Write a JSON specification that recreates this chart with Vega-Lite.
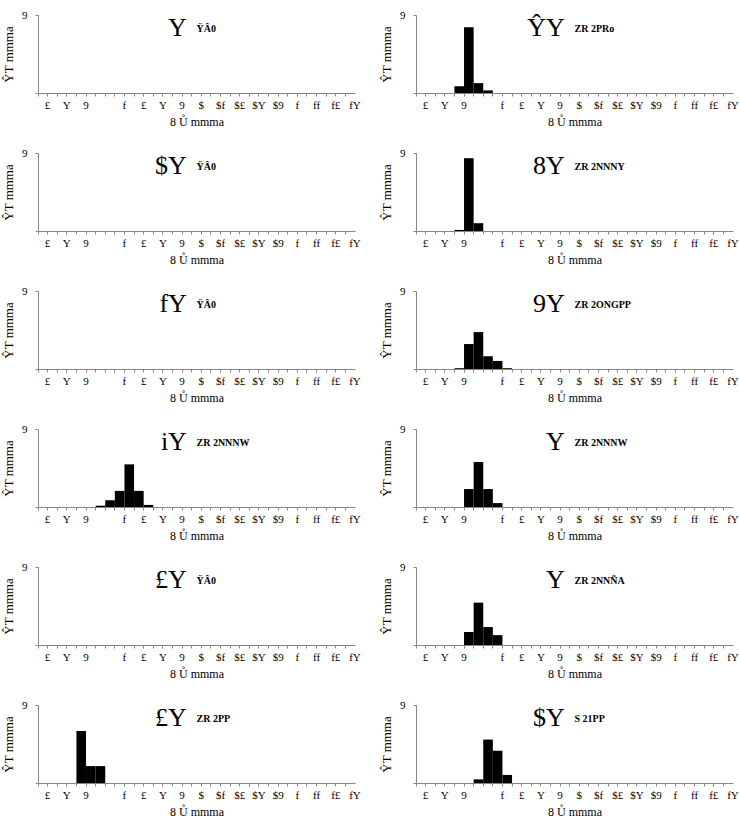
{
  "$schema": "https://vega.github.io/schema/vega-lite/v6.json",
  "background": "white",
  "padding": {"left": 2, "top": 9, "right": 4, "bottom": 2},
  "config": {"view": {"stroke": null}, "header": {"labelExpr": "''", "labelFontSize": 0, "labelPadding": 0, "title": null}},
  "data": {"values": [
    {"panel": "p01", "kind": "title", "big": "Y", "small": "ŸÂ0"},
    {"panel": "p02", "kind": "title", "big": "ŶY", "small": "ZR 2PRo"},
    {"panel": "p02", "kind": "bar", "bin": 4, "count": 0.26},
    {"panel": "p02", "kind": "bar", "bin": 5, "count": 2.53},
    {"panel": "p02", "kind": "bar", "bin": 6, "count": 0.38},
    {"panel": "p02", "kind": "bar", "bin": 7, "count": 0.1},
    {"panel": "p03", "kind": "title", "big": "$Y", "small": "ŸÂ0"},
    {"panel": "p04", "kind": "title", "big": "8Y", "small": "ZR 2NNNY"},
    {"panel": "p04", "kind": "bar", "bin": 4, "count": 0.04},
    {"panel": "p04", "kind": "bar", "bin": 5, "count": 2.8},
    {"panel": "p04", "kind": "bar", "bin": 6, "count": 0.3},
    {"panel": "p05", "kind": "title", "big": "fY", "small": "ŸÂ0"},
    {"panel": "p06", "kind": "title", "big": "9Y", "small": "ZR 2ONGPP"},
    {"panel": "p06", "kind": "bar", "bin": 4, "count": 0.03},
    {"panel": "p06", "kind": "bar", "bin": 5, "count": 0.96},
    {"panel": "p06", "kind": "bar", "bin": 6, "count": 1.42},
    {"panel": "p06", "kind": "bar", "bin": 7, "count": 0.49},
    {"panel": "p06", "kind": "bar", "bin": 8, "count": 0.31},
    {"panel": "p06", "kind": "bar", "bin": 9, "count": 0.03},
    {"panel": "p07", "kind": "title", "big": "iY", "small": "ZR 2NNNW"},
    {"panel": "p07", "kind": "bar", "bin": 6, "count": 0.05},
    {"panel": "p07", "kind": "bar", "bin": 7, "count": 0.26},
    {"panel": "p07", "kind": "bar", "bin": 8, "count": 0.62},
    {"panel": "p07", "kind": "bar", "bin": 9, "count": 1.64},
    {"panel": "p07", "kind": "bar", "bin": 10, "count": 0.62},
    {"panel": "p07", "kind": "bar", "bin": 11, "count": 0.08},
    {"panel": "p08", "kind": "title", "big": "Y", "small": "ZR 2NNNW"},
    {"panel": "p08", "kind": "bar", "bin": 5, "count": 0.69},
    {"panel": "p08", "kind": "bar", "bin": 6, "count": 1.73},
    {"panel": "p08", "kind": "bar", "bin": 7, "count": 0.69},
    {"panel": "p08", "kind": "bar", "bin": 8, "count": 0.15},
    {"panel": "p09", "kind": "title", "big": "£Y", "small": "ŸÂ0"},
    {"panel": "p10", "kind": "title", "big": "Y", "small": "ZR 2NNÑA"},
    {"panel": "p10", "kind": "bar", "bin": 5, "count": 0.5},
    {"panel": "p10", "kind": "bar", "bin": 6, "count": 1.63},
    {"panel": "p10", "kind": "bar", "bin": 7, "count": 0.69},
    {"panel": "p10", "kind": "bar", "bin": 8, "count": 0.38},
    {"panel": "p11", "kind": "title", "big": "£Y", "small": "ZR 2PP"},
    {"panel": "p11", "kind": "bar", "bin": 4, "count": 2.0},
    {"panel": "p11", "kind": "bar", "bin": 5, "count": 0.65},
    {"panel": "p11", "kind": "bar", "bin": 6, "count": 0.65},
    {"panel": "p12", "kind": "title", "big": "$Y", "small": "S 21PP"},
    {"panel": "p12", "kind": "bar", "bin": 6, "count": 0.14},
    {"panel": "p12", "kind": "bar", "bin": 7, "count": 1.67},
    {"panel": "p12", "kind": "bar", "bin": 8, "count": 1.24},
    {"panel": "p12", "kind": "bar", "bin": 9, "count": 0.31}
  ]},
  "facet": {"field": "panel", "type": "nominal", "sort": "ascending", "title": null, "header": null},
  "columns": 2,
  "spacing": {"row": 60, "column": 61},
  "bounds": "flush",
  "resolve": {"axis": {"x": "independent", "y": "independent"}},
  "spec": {
    "width": 317,
    "height": 78,
    "layer": [
      {
        "transform": [{"filter": "datum.kind === 'bar'"}],
        "mark": {"type": "bar", "color": "black"},
        "encoding": {
          "x": {
            "field": "bin", "type": "ordinal",
            "scale": {"domain": [0,1,2,3,4,5,6,7,8,9,10,11,12,13,14,15,16,17,18,19,20,21,22,23,24,25,26,27,28,29,30,31,32], "paddingInner": 0, "paddingOuter": 0},
            "axis": {
              "bandPosition": 0, "labelOffset": 4.8, "labelAngle": 0, "labelOverlap": false,
              "labelExpr": "datum.value % 2 === 0 ? ['£','Y','9','','f','£','Y','9','$','$f','$£','$Y','$9','f','ff','f£','fY'][datum.value / 2] : ''",
              "labelFont": "Liberation Serif", "labelFontSize": 11, "labelColor": "black", "labelPadding": 3,
              "domainColor": "#868686", "tickColor": "#868686", "tickSize": 3,
              "title": "8 Ů mmma", "titleFont": "Liberation Serif", "titleFontSize": 12, "titleFontWeight": "normal", "titleColor": "black", "titlePadding": 6
            }
          },
          "y": {
            "field": "count", "type": "quantitative",
            "scale": {"domain": [0, 3], "nice": false},
            "axis": {
              "values": [0, 1, 2, 3], "grid": false,
              "labelExpr": "['', 'f', '£', '9'][datum.value]",
              "labelFont": "Liberation Serif", "labelFontSize": 11, "labelColor": "black", "labelPadding": 8,
              "domainColor": "#868686", "tickColor": "#868686", "tickSize": 3,
              "title": "ŶT mmma", "titleFont": "Liberation Serif", "titleFontSize": 13, "titleFontWeight": "normal", "titleColor": "black", "titlePadding": 6
            }
          }
        }
      },
      {
        "transform": [{"filter": "datum.kind === 'title'"}],
        "mark": {"type": "text", "align": "right", "baseline": "alphabetic", "font": "Liberation Serif", "fontSize": 26, "color": "black"},
        "encoding": {
          "x": {"datum": 15, "type": "ordinal", "scale": {"domain": [0,1,2,3,4,5,6,7,8,9,10,11,12,13,14,15,16,17,18,19,20,21,22,23,24,25,26,27,28,29,30,31,32], "paddingInner": 0, "paddingOuter": 0}},
          "y": {"datum": 2.2, "type": "quantitative"},
          "text": {"field": "big"}
        }
      },
      {
        "transform": [{"filter": "datum.kind === 'title'"}],
        "mark": {"type": "text", "align": "left", "baseline": "alphabetic", "font": "Liberation Sans Narrow", "fontWeight": "bold", "fontSize": 10, "color": "black"},
        "encoding": {
          "x": {"datum": 16, "type": "ordinal", "scale": {"domain": [0,1,2,3,4,5,6,7,8,9,10,11,12,13,14,15,16,17,18,19,20,21,22,23,24,25,26,27,28,29,30,31,32], "paddingInner": 0, "paddingOuter": 0}},
          "y": {"datum": 2.36, "type": "quantitative"},
          "text": {"field": "small"}
        }
      }
    ]
  }
}
